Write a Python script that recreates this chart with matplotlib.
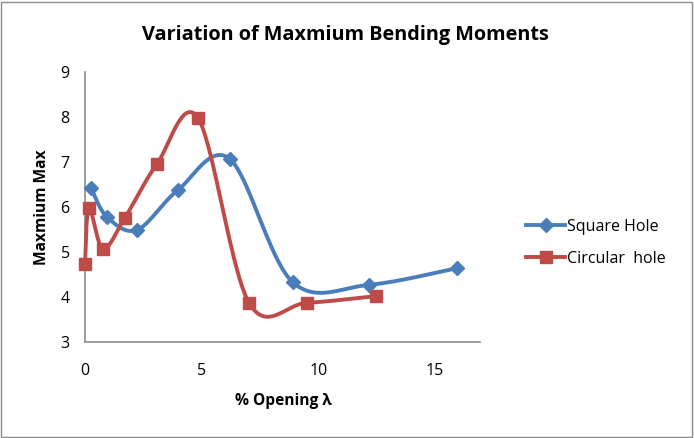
import numpy as np
import matplotlib.pyplot as plt
from matplotlib.patches import Rectangle

# data
square_x = [0.26, 0.94, 2.23, 3.99, 6.2, 8.9, 12.17, 15.94]
square_y = [6.42, 5.78, 5.49, 6.38, 7.07, 4.33, 4.27, 4.64]
circ_x = [0.0, 0.17, 0.77, 1.71, 3.09, 4.84, 7.03, 9.5, 12.47]
circ_y = [4.73, 5.98, 5.07, 5.76, 6.96, 7.98, 3.87, 3.87, 4.02]


# Excel-style smoothed line (cardinal spline as cubic beziers)
def smooth(xs, ys, n=40):
    p = np.column_stack([xs, ys]).astype(float)
    out = []
    for i in range(len(p) - 1):
        p0 = p[i - 1] if i > 0 else p[i]
        p1, p2 = p[i], p[i + 1]
        p3 = p[i + 2] if i + 2 < len(p) else p[i + 1]
        c1 = p1 + (p2 - p0) / 6
        c2 = p2 - (p3 - p1) / 6
        t = np.linspace(0, 1, n)[:, None]
        seg = (1 - t) ** 3 * p1 + 3 * (1 - t) ** 2 * t * c1 + 3 * (1 - t) * t ** 2 * c2 + t ** 3 * p2
        out.append(seg if i == 0 else seg[1:])
    out = np.vstack(out)
    return out[:, 0], out[:, 1]


plt.rcParams['font.family'] = ['Open Sans', 'DejaVu Sans']
blue = '#4A7EBB'
red = '#BE4B48'

fig = plt.figure(figsize=(6.94, 4.38), dpi=100)
fig.patches.append(Rectangle((0.002, 0.003), 0.995, 0.993, transform=fig.transFigure,
                             fill=False, edgecolor='#8c8c8c', linewidth=1))
ax = fig.add_axes([85 / 694, 1 - 342 / 438, 395 / 694, 270 / 438])

sx, sy = smooth(square_x, square_y)
cx, cy = smooth(circ_x, circ_y)
ax.plot(sx, sy, color=blue, linewidth=2.8, zorder=2, clip_on=False)
ax.plot(cx, cy, color=red, linewidth=2.8, zorder=3, clip_on=False)
ax.plot(square_x, square_y, linestyle='none', marker='D', markersize=7.5, color=blue,
        zorder=2, clip_on=False)
ax.plot(circ_x, circ_y, linestyle='none', marker='s', markersize=9, color=red,
        zorder=3, clip_on=False)

ax.set_xlim(0, 16.93)
ax.set_ylim(3, 9)
ax.set_xticks([0, 5, 10, 15])
ax.set_yticks([3, 4, 5, 6, 7, 8, 9])
ax.tick_params(length=0, labelsize=11.5)
ax.tick_params(axis='x', pad=15)
ax.tick_params(axis='y', pad=11)
for s in ['top', 'right']:
    ax.spines[s].set_visible(False)
for s in ['left', 'bottom']:
    ax.spines[s].set_color('#8c8c8c')
    ax.spines[s].set_linewidth(1.2)
    ax.spines[s].set_zorder(1)

fig.text(345 / 694, 1 - 35 / 438, 'Variation of Maxmium Bending Moments',
         ha='center', va='center', fontsize=14.3, fontweight='bold')
fig.text(283 / 694, 1 - 401 / 438, '% Opening λ', ha='center', va='center',
         fontsize=11.2, fontweight='bold')
fig.text(42 / 694, 1 - 207 / 438, 'Maxmium Max', ha='center', va='center',
         fontsize=11.2, fontweight='bold', rotation=90)

ax.plot([], [], color=blue, linewidth=2.8, marker='D', markersize=7.5, label='Square Hole')
ax.plot([], [], color=red, linewidth=2.8, marker='s', markersize=9, label='Circular  hole')
h, l = ax.get_legend_handles_labels()
fig.legend(h[-2:], l[-2:], loc='center left', bbox_to_anchor=(512 / 694, 1 - 243 / 438),
           frameon=False, fontsize=11.5, handlelength=2.4, labelspacing=1.0, handletextpad=0.15)

fig.savefig('out.png', dpi=100)
